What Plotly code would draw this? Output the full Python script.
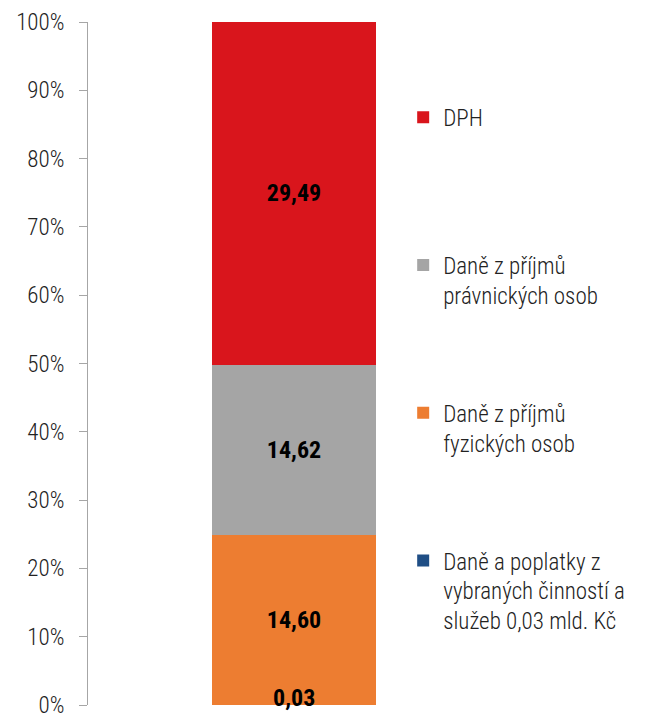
import plotly.graph_objects as go

category = ["Daně"]
series_names = [
    "Daně a poplatky z<br>vybraných činností a<br>služeb 0,03 mld. Kč",
    "Daně z příjmů<br>fyzických osob",
    "Daně z příjmů<br>právnických osob",
    "DPH<br> ",
]
series_values = [0.03, 14.60, 14.62, 29.49]
series_colors = ["#1f4e85", "#ed7d31", "#a5a5a5", "#d9151c"]
tick_vals = [0, 10, 20, 30, 40, 50, 60, 70, 80, 90, 100]
tick_labels = ["0%", "10%", "20%", "30%", "40%", "50%", "60%", "70%", "80%", "90%", "100%"]

FONT = "Liberation Sans Narrow, Roboto Condensed, Noto Sans, sans-serif"

def fmt(v):
    return f"{v:.2f}".replace(".", ",")

fig = go.Figure()
n = len(series_names)
for i, (name, val, col) in enumerate(zip(series_names, series_values, series_colors)):
    fig.add_trace(go.Bar(
        x=category, y=[val], name=name,
        marker=dict(color=col, line=dict(width=0)),
        text=[fmt(val)] if i > 0 else None,
        textposition="inside" if i > 0 else "none",
        insidetextanchor="middle",
        textfont=dict(family=FONT, size=24, color="black", weight="bold"),
        legendgroup=str(i),
        legendrank=n - i,
    ))

fig.add_annotation(
    x=category[0], y=0, text="<b>" + fmt(series_values[0]) + "</b>",
    showarrow=False, yshift=7, font=dict(family=FONT, size=24, color="black"),
)

fig.update_layout(
    width=644, height=705,
    barmode="stack", barnorm="percent", bargap=0.604,
    plot_bgcolor="white", paper_bgcolor="white",
    margin=dict(l=80, r=152, t=14, b=8, autoexpand=False),
    font=dict(family=FONT, size=20, color="#222"),
    showlegend=True,
    legend=dict(
        x=0.765, xanchor="left", y=0.892, yanchor="top",
        traceorder="grouped", tracegroupgap=85, valign="top",
        font=dict(family=FONT, size=23, color="#222", weight=300),
        itemwidth=30,
    ),
    uniformtext=dict(mode="show", minsize=10),
)
fig.update_xaxes(showticklabels=False, showline=False, showgrid=False, zeroline=False)
fig.update_yaxes(
    range=[0, 100], tickmode="array", tickvals=tick_vals, ticktext=tick_labels,
    showline=True, linecolor="#a6a6a6", linewidth=1, automargin=False,
    ticks="outside", ticklen=8, tickcolor="#a6a6a6", ticklabelstandoff=10,
    showgrid=False, zeroline=False, ticklabeloverflow="allow",
    tickfont=dict(family=FONT, size=23, color="#222", weight=300),
)

fig.write_html("out.html")
